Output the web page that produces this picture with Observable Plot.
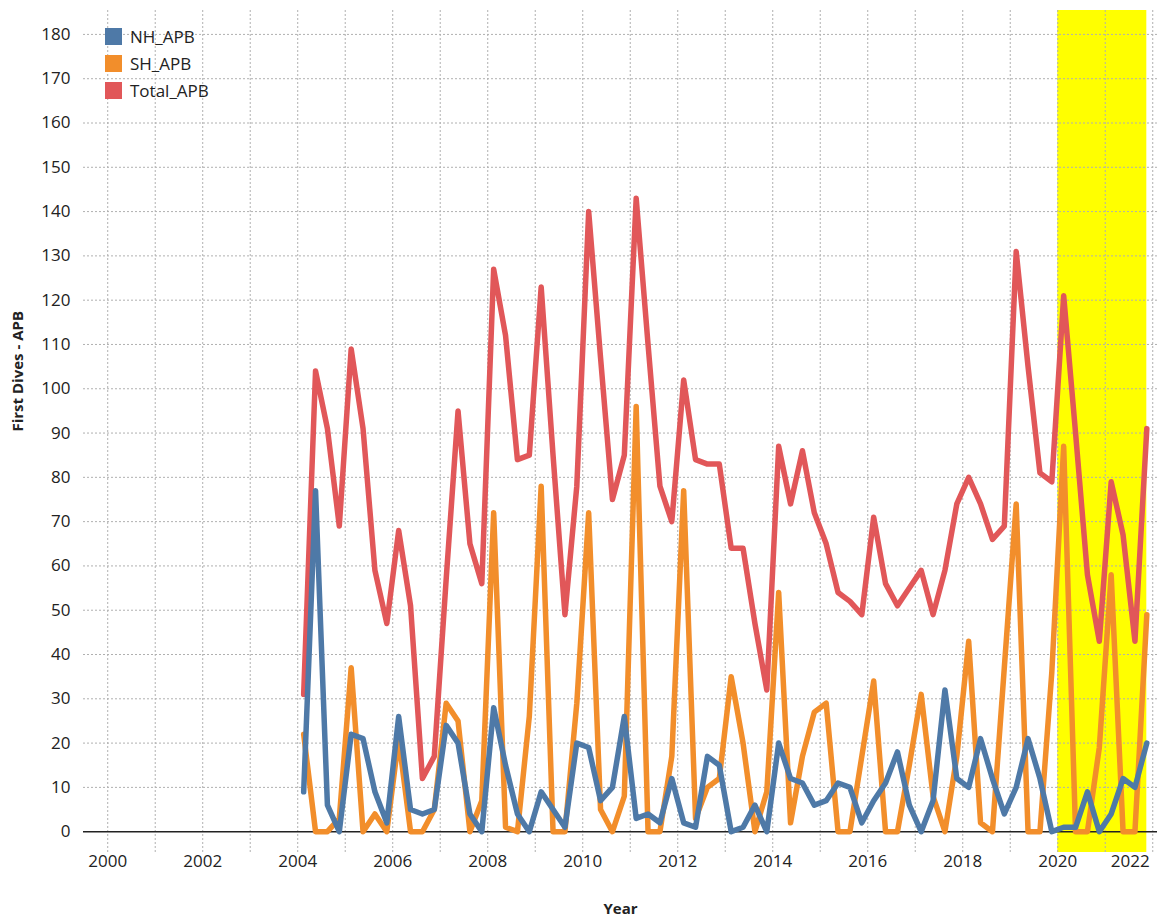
<!DOCTYPE html>
<html><head><meta charset="utf-8">
<script src="https://cdn.jsdelivr.net/npm/d3@7"></script>
<script src="https://cdn.jsdelivr.net/npm/@observablehq/plot@0.6"></script>
<style>
body{margin:0;background:#fff;font-family:"Open Sans",sans-serif;}
#wrap{position:relative;width:1161px;height:919px;}
#legend{position:absolute;left:105px;top:23px;font-size:17px;color:#222;}
.item{display:flex;align-items:center;height:27px;}
.sw{width:17px;height:17px;margin-right:8px;}
</style></head><body><div id="wrap"><div id="legend"></div></div>
<script>
const periods = [
 "2004Q1","2004Q2","2004Q3","2004Q4","2005Q1","2005Q2","2005Q3","2005Q4",
 "2006Q1","2006Q2","2006Q3","2006Q4","2007Q1","2007Q2","2007Q3","2007Q4",
 "2008Q1","2008Q2","2008Q3","2008Q4","2009Q1","2009Q2","2009Q3","2009Q4",
 "2010Q1","2010Q2","2010Q3","2010Q4","2011Q1","2011Q2","2011Q3","2011Q4",
 "2012Q1","2012Q2","2012Q3","2012Q4","2013Q1","2013Q2","2013Q3","2013Q4",
 "2014Q1","2014Q2","2014Q3","2014Q4","2015Q1","2015Q2","2015Q3","2015Q4",
 "2016Q1","2016Q2","2016Q3","2016Q4","2017Q1","2017Q2","2017Q3","2017Q4",
 "2018Q1","2018Q2","2018Q3","2018Q4","2019Q1","2019Q2","2019Q3","2019Q4",
 "2020Q1","2020Q2","2020Q3","2020Q4","2021Q1","2021Q2","2021Q3","2021Q4"
];
const nhAPB = [
 9,77,6,0, 22,21,9,2, 26,5,4,5, 24,20,4,0, 28,15,4,0, 9,5,1,20,
 19,7,10,26, 3,4,2,12, 2,1,17,15, 0,1,6,0, 20,12,11,6, 7,11,10,2,
 7,11,18,6, 0,7,32,12, 10,21,12,4, 10,21,12,0, 1,1,9,0, 4,12,10,20
];
const shAPB = [
 22,0,0,3, 37,0,4,0, 21,0,0,5, 29,25,0,7, 72,1,0,26, 78,0,0,29,
 72,5,0,8, 96,0,0,17, 77,3,10,12, 35,20,0,9, 54,2,17,27, 29,0,0,17,
 34,0,0,15, 31,8,0,17, 43,2,0,37, 74,0,0,36, 87,0,0,19, 58,0,0,49
];
const totalAPB = [
 31,104,91,69, 109,91,59,47, 68,51,12,17, 57,95,65,56, 127,112,84,85, 123,85,49,78,
 140,107,75,85, 143,110,78,70, 102,84,83,83, 64,64,47,32, 87,74,86,72, 65,54,52,49,
 71,56,51,55, 59,49,59,74, 80,74,66,69, 131,105,81,79, 121,90,58,43, 79,67,43,91
];
const seriesNames = ["NH_APB","SH_APB","Total_APB"];
const seriesColors = ["#4e79a7","#f28e2b","#e15759"];
const xTickYears = [2000,2002,2004,2006,2008,2010,2012,2014,2016,2018,2020,2022];
const gridYears = [2000,2001,2002,2003,2004,2005,2006,2007,2008,2009,2010,2011,2012,2013,2014,2015,2016,2017,2018,2019,2020,2021,2022];
const yTicks = [0,10,20,30,40,50,60,70,80,90,100,110,120,130,140,150,160,170,180];
const highlight = [{start:"2020Q0", end:"2021Q4"}];

// position of a quarter: middle of the quarter in decimal years
const toX = p => +p.slice(0,4) + (+p.slice(5) - 0.5) / 4;
const hl = highlight.map(h => ({x1: +h.start.slice(0,4), x2: toX(h.end)}));
const xs = periods.map(toX);

const chart = Plot.plot({
  width: 1161, height: 919,
  marginLeft: 83, marginRight: 4, marginTop: 10, marginBottom: 67,
  x: {domain: [1999.49, 2022.1]},
  y: {domain: [-4.7, 185.4]},
  style: {fontFamily: "Open Sans, sans-serif", fontSize: "17px", color: "#222", background: "white", overflow: "visible"},
  marks: [
    Plot.rect(hl, {x1: "x1", x2: "x2", fill: "#ffff00"}),
    Plot.ruleX(gridYears, {stroke: "#b0b0b0", strokeDasharray: "2,2", strokeWidth: 1}),
    Plot.ruleY(yTicks.filter(d => d > 0), {stroke: "#b0b0b0", strokeDasharray: "2,2", strokeWidth: 1}),
    Plot.ruleY([0], {stroke: "#222", strokeWidth: 1.5}),
    Plot.line(periods, {x: xs, y: totalAPB, stroke: seriesColors[2], strokeWidth: 5.5}),
    Plot.line(periods, {x: xs, y: shAPB, stroke: seriesColors[1], strokeWidth: 5.5}),
    Plot.line(periods, {x: xs, y: nhAPB, stroke: seriesColors[0], strokeWidth: 5.5}),
    Plot.axisY({ticks: yTicks, tickSize: 0, tickPadding: 13, label: null}),
    Plot.axisX({ticks: xTickYears.slice(0, -1), tickSize: 0, tickPadding: 2, tickFormat: d => String(d), label: null}),
    Plot.axisX({ticks: xTickYears.slice(-1), tickSize: 0, tickPadding: 2, tickFormat: d => String(d), label: null, textAnchor: "end", dx: -3}),
    Plot.text(["First Dives - APB"], {frameAnchor: "left", dx: -65, rotate: -90, fontWeight: "bold", fontSize: 15, fill: "#222"}),
    Plot.text(["Year"], {frameAnchor: "bottom", dy: 61, fontWeight: "bold", fontSize: 15, fill: "#222"})
  ]
});
const wrap = document.getElementById("wrap");
wrap.insertBefore(chart, wrap.firstChild);
const legend = d3.select("#legend");
seriesNames.forEach((n, i) => {
  const it = legend.append("div").attr("class", "item");
  it.append("div").attr("class", "sw").style("background", seriesColors[i]);
  it.append("span").text(n);
});
</script></body></html>
